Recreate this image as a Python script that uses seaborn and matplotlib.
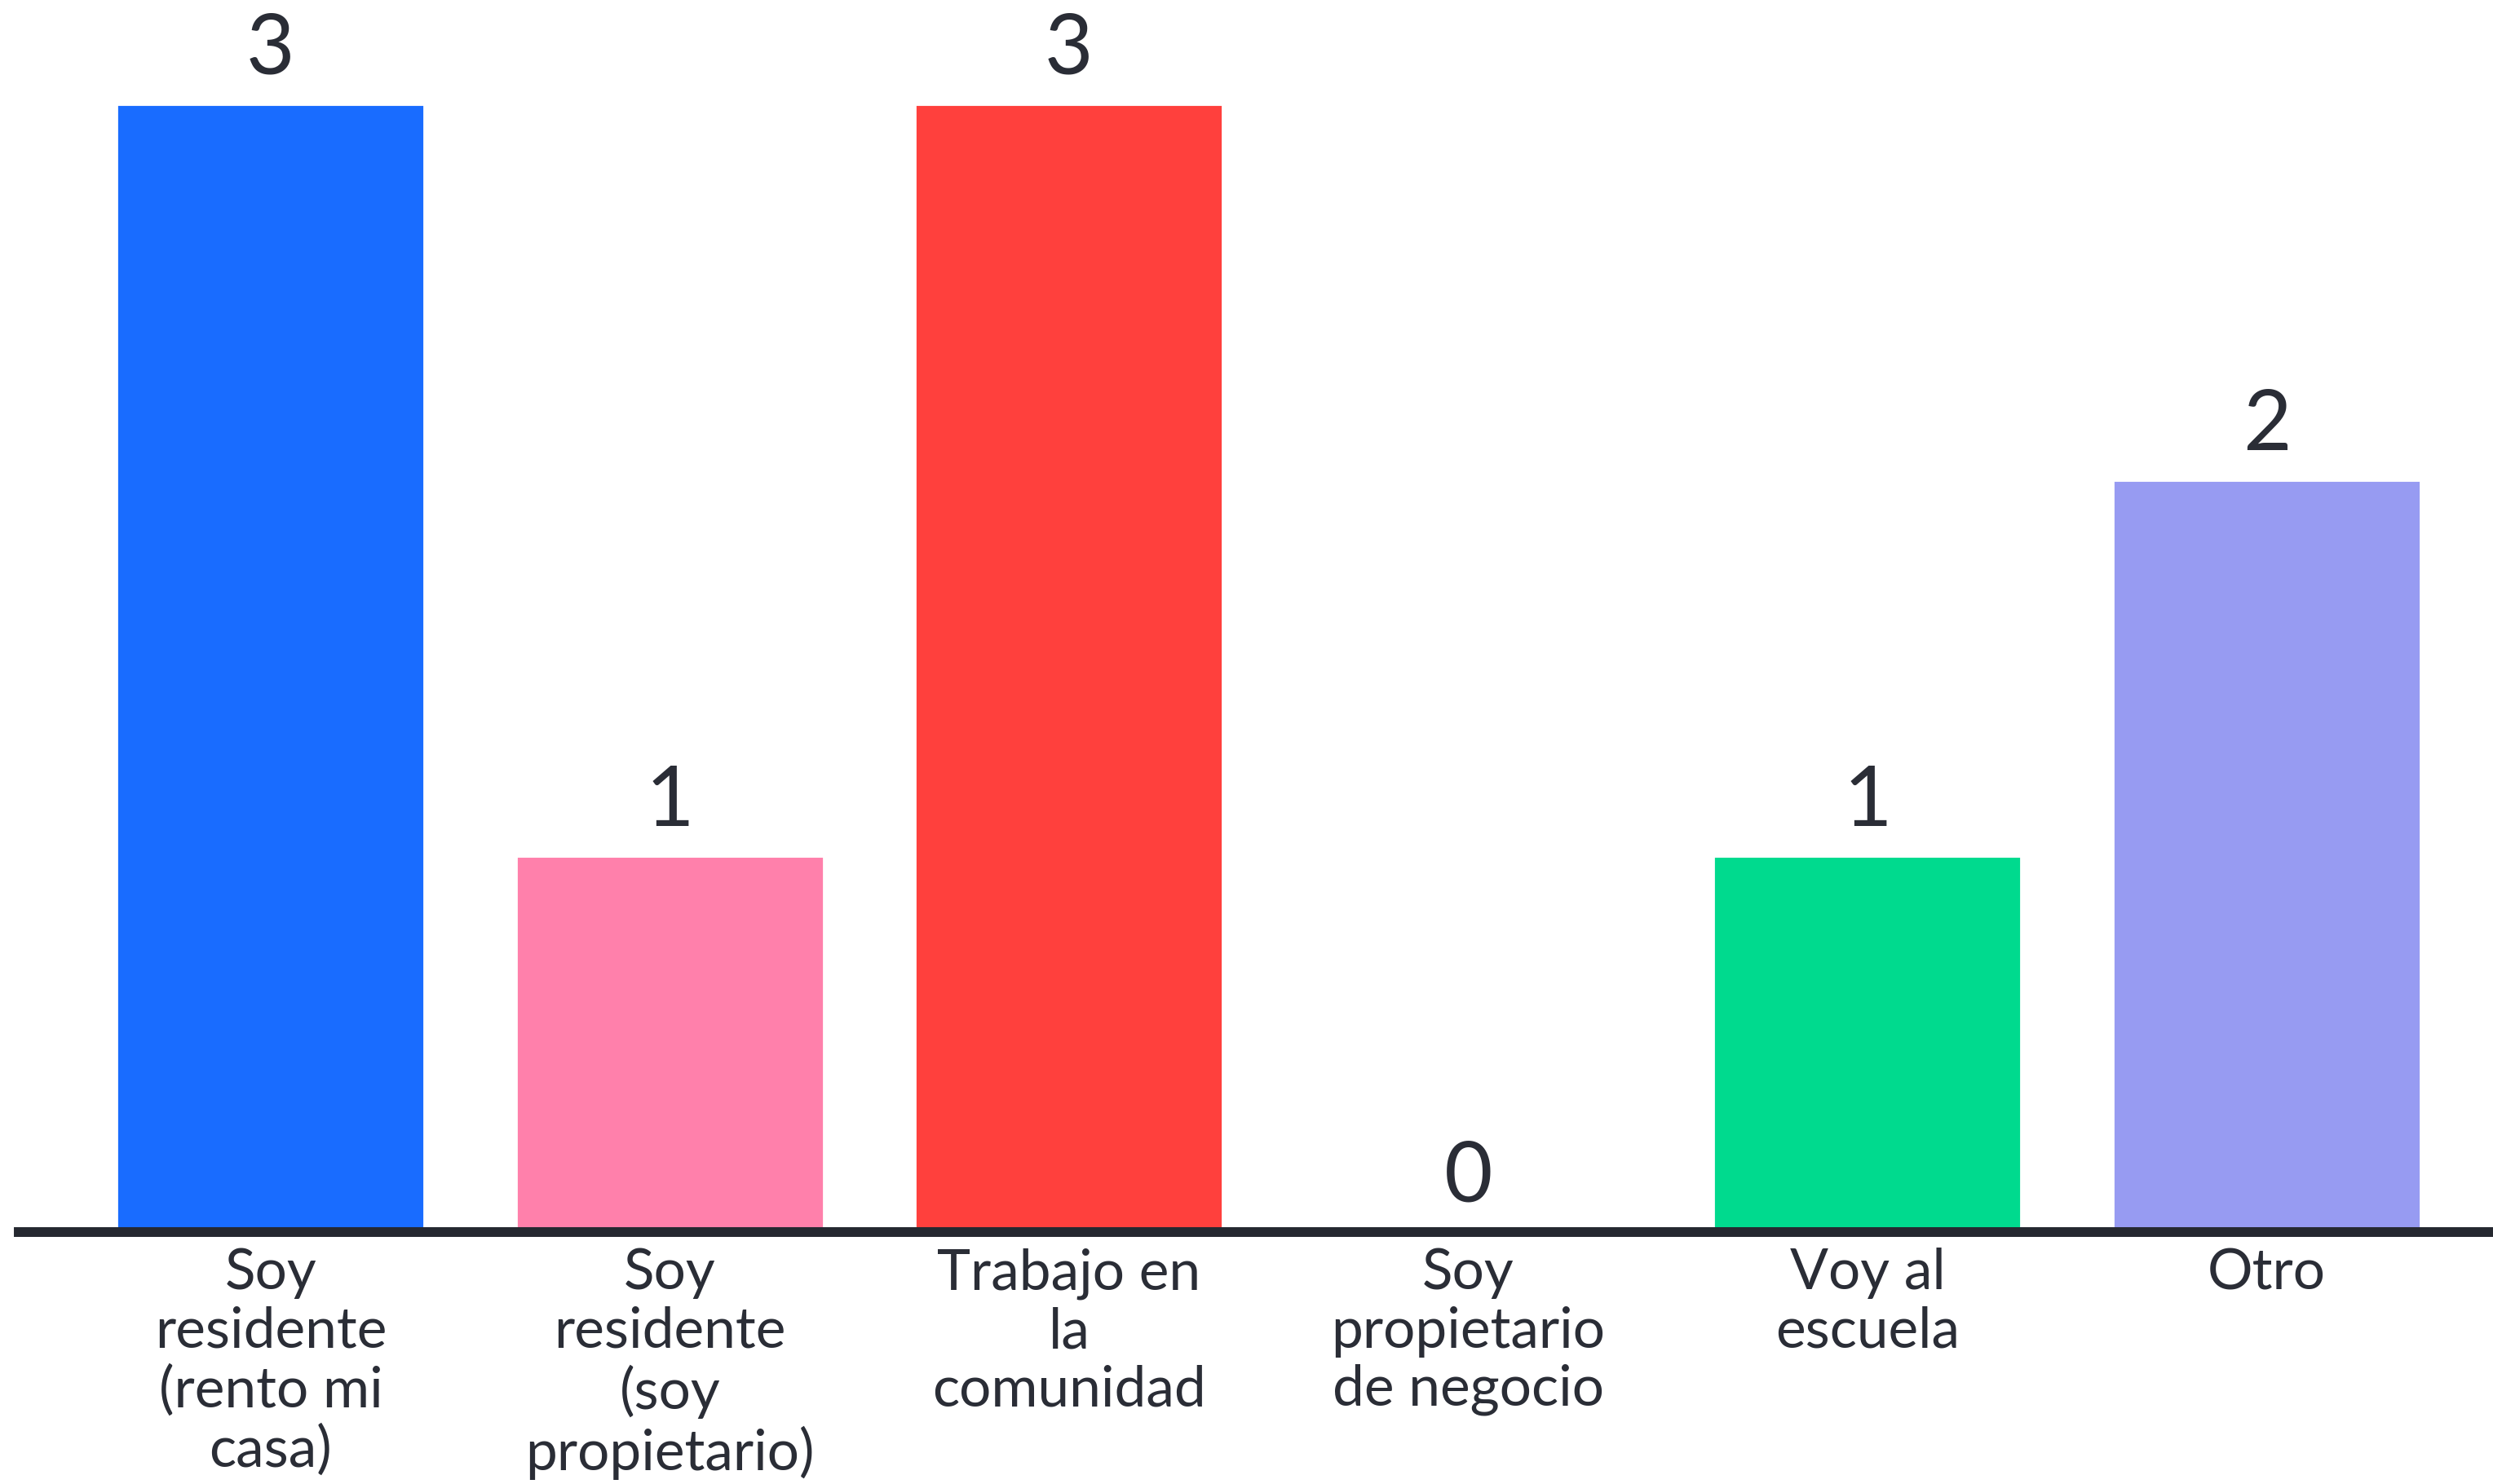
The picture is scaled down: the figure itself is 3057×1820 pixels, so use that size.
import matplotlib
matplotlib.use("Agg")
import matplotlib.pyplot as plt
import seaborn as sns
import pandas as pd

# Chart data
categories = [
    "Soy\nresidente\n(rento mi\ncasa)",
    "Soy\nresidente\n(soy\npropietario)",
    "Trabajo en\nla\ncomunidad",
    "Soy\npropietario\nde negocio",
    "Voy al\nescuela",
    "Otro",
]
counts = [3, 1, 3, 0, 1, 2]
bar_colors = ["#196CFF", "#FF80AB", "#FF403D", "#E0E0E0", "#00DA8E", "#979BF2"]

TEXT = "#2A2D36"

sns.set_theme(style="white")
plt.rcParams["font.family"] = ["Lato", "DejaVu Sans"]

df = pd.DataFrame({"category": categories, "count": counts})

fig = plt.figure(figsize=(15.285, 9.1), dpi=200)
ax = fig.add_axes([23 / 3057, 309 / 1820, 1 - 23 / 3057, 1 - 309 / 1820])

sns.barplot(data=df, x="category", y="count", hue="category",
            palette=bar_colors, width=0.77, legend=False, ax=ax,
            saturation=1)

for c in ax.containers:
    ax.bar_label(c, padding=7, fontsize=37, color=TEXT)

ax.set_xlim(-0.631, 5.567)
ax.set_ylim(0, 3.278)
ax.set_xlabel("")
ax.set_ylabel("")
ax.set_yticks([])
ax.tick_params(axis="x", length=0, pad=7, labelsize=25, labelcolor=TEXT)
for lbl in ax.get_xticklabels():
    lbl.set_linespacing(1.16)
    lbl.set_verticalalignment("top")

for side in ["top", "right", "left"]:
    ax.spines[side].set_visible(False)
ax.spines["bottom"].set_color("#252830")
ax.spines["bottom"].set_linewidth(4.3)

fig.savefig("out.png", dpi=200, facecolor="white")
